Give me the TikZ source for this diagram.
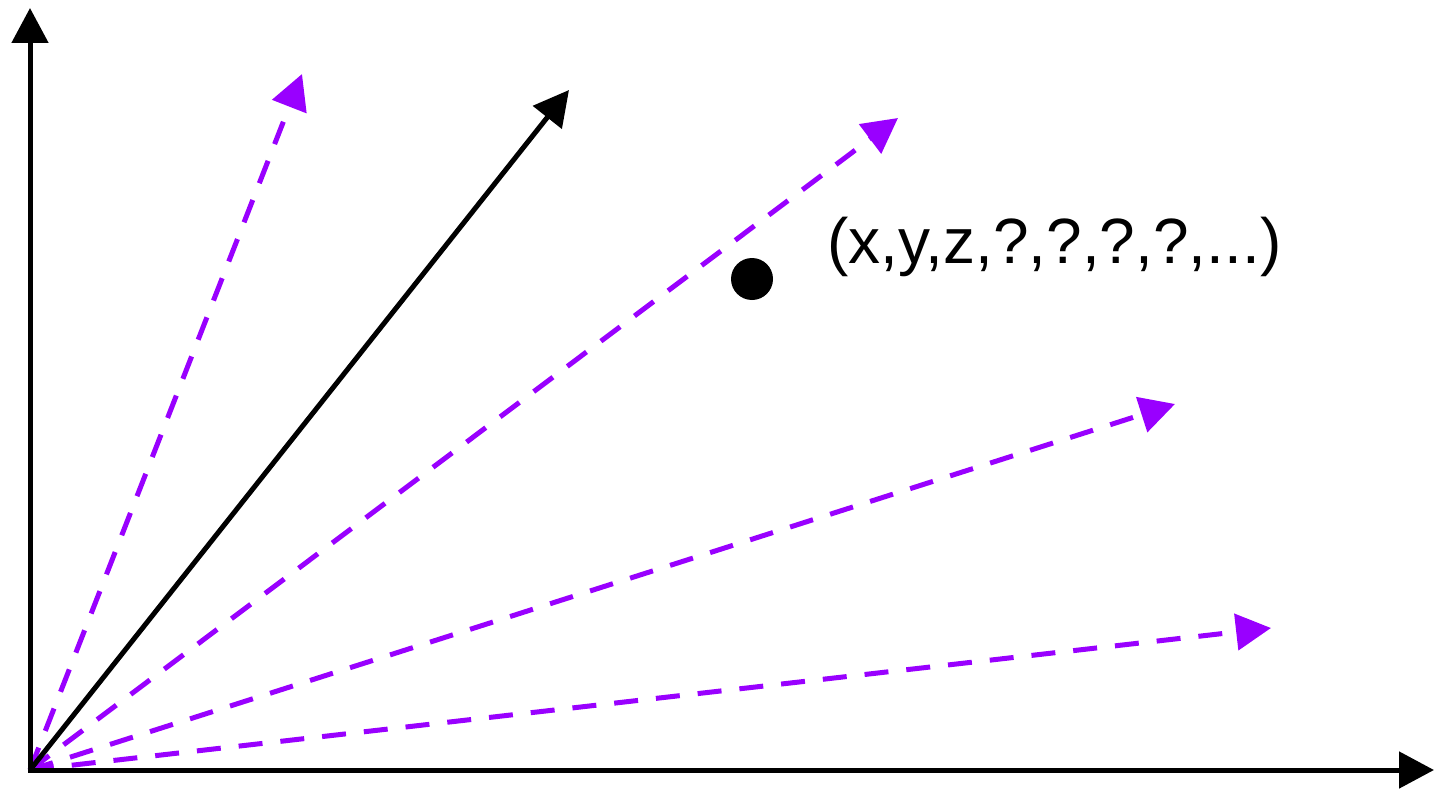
\documentclass[tikz,border=0pt]{standalone}
\usepackage{fontspec}
\setmainfont{Liberation Sans}
\usetikzlibrary{arrows.meta}
\definecolor{vio}{HTML}{9900FF}
\tikzset{
  axis/.style={line width=5pt, draw=black, -{Triangle[length=35pt,width=36pt]}},
  solidvec/.style={line width=5pt, draw=black, -{Triangle[length=35pt,width=36pt]}},
  dashvec/.style={line width=5pt, draw=vio, dash pattern=on 24pt off 18pt, -{Triangle[length=35pt,width=36pt,fill=vio]}},
  pt/.style={fill=black, circle, inner sep=0pt, minimum size=42pt},
  lbl/.style={inner sep=0pt, font=\fontsize{64pt}{70pt}\selectfont}
}
\begin{document}
\begin{tikzpicture}[x=1pt,y=-1pt]
\useasboundingbox (0,0) rectangle (1434,789);
\coordinate (O) at (30,770);
\coordinate (ytip) at (30,8);
\coordinate (xtip) at (1434,770);
\coordinate (b) at (569,90);
\coordinate (p1) at (302,74);
\coordinate (p2) at (898,118);
\coordinate (p3) at (1175,404);
\coordinate (p4) at (1271,628);
\draw[dashvec] (O) -- (p1);
\draw[dashvec] (O) -- (p2);
\draw[dashvec] (O) -- (p3);
\draw[dashvec] (O) -- (p4);
\draw[solidvec] (O) -- (b);
\draw[axis, shorten <=-2.5pt] (O) -- (ytip);
\draw[axis, shorten <=-2.5pt] (O) -- (xtip);
\node[pt] (dot) at (752,279) {};
\node[lbl, anchor=base west] (coords) at (827,263) {(x,y,z,?,?,?,?,...)};
\end{tikzpicture}
\end{document}
